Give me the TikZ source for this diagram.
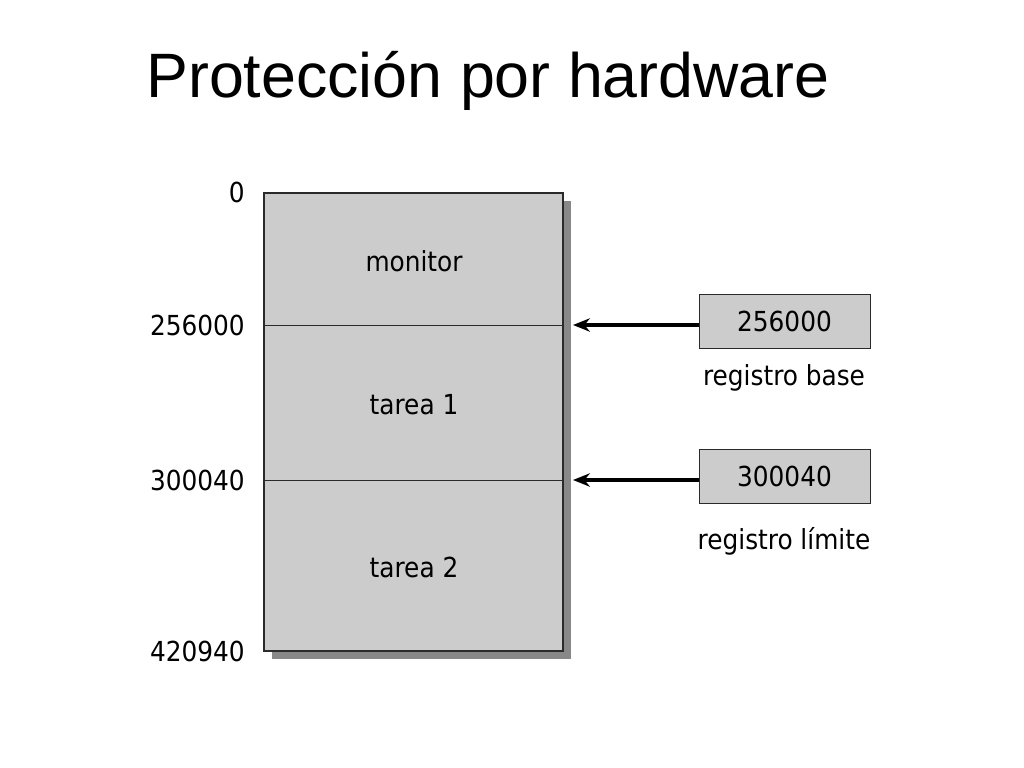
\documentclass[tikz,border=0pt]{standalone}
\usepackage{fontspec}
\setmainfont{DejaVu Sans Condensed}
\newfontfamily\titlefont{Liberation Sans}
\usetikzlibrary{arrows.meta}
\definecolor{memgray}{HTML}{CCCCCC}
\definecolor{shadowgray}{HTML}{888888}
\definecolor{edgegray}{HTML}{2A2A2A}
\begin{document}
\begin{tikzpicture}[x=0.025cm, y=-0.025cm,
    txt/.style={font=\fontsize{19.6pt}{22pt}\selectfont, inner sep=0pt},
    addr/.style={txt, anchor=east},
    regbox/.style={draw=edgegray, fill=memgray, line width=0.7pt, minimum width=171*0.025cm, minimum height=54*0.025cm, txt},
    ptr/.style={-{Stealth[length=12pt, width=9.5pt]}, line width=2.8pt}]
    \useasboundingbox (0,0) rectangle (1024,768);

    \node[font=\titlefont\fontsize{44.6pt}{50pt}\selectfont, inner sep=0pt, anchor=base] (title) at (488, 98) {Protección por hardware};

    % memoria
    \fill[shadowgray] (272, 201) rectangle (571, 659);
    \draw[edgegray, fill=memgray, line width=0.8pt] (264, 193) rectangle (563, 651);
    \coordinate (div1l) at (264, 325);
    \coordinate (div1r) at (563, 325);
    \coordinate (div2l) at (264, 480);
    \coordinate (div2r) at (563, 480);
    \draw[edgegray, line width=0.7pt] (div1l) -- (div1r);
    \draw[edgegray, line width=0.7pt] (div2l) -- (div2r);

    \node[txt] (monitor) at (414, 261) {monitor};
    \node[txt] (tarea1) at (414, 405) {tarea 1};
    \node[txt] (tarea2) at (414, 567) {tarea 2};

    \node[addr] (a0) at (245, 192) {0};
    \node[addr] (a1) at (245, 325) {256000};
    \node[addr] (a2) at (245, 480) {300040};
    \node[addr] (a3) at (245, 651) {420940};

    % registros
    \node[regbox] (base) at (784.5, 321) {256000};
    \node[regbox] (limite) at (784.5, 476) {300040};
    \node[txt] (baselbl) at (784, 378) {registro base};
    \node[txt] (limitelbl) at (784, 541) {registro límite};

    \coordinate (p1) at (573, 325);
    \coordinate (p2) at (573, 480);
    \draw[ptr] (base.west |- p1) -- (p1);
    \draw[ptr] (limite.west |- p2) -- (p2);
\end{tikzpicture}
\end{document}
